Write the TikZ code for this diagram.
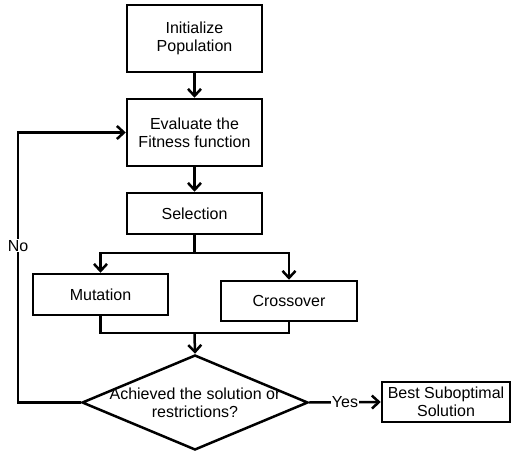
\documentclass[tikz,border=0pt]{standalone}
\usepackage{fontspec}
\setmainfont{Liberation Sans}
\usepackage{tikz}
\usetikzlibrary{arrows.meta, positioning, shapes.geometric}

\begin{document}
\begin{tikzpicture}[x=1pt, y=1pt,
  gabox/.style={draw=black, fill=white, line width=2.5pt, minimum width=135pt, minimum height=41pt, align=center, inner sep=2pt, font=\fontsize{16}{18}\selectfont},
  arr/.style={-{Straight Barb[length=7pt, width=13pt]}, black, line width=2.5pt},
  lnk/.style={black, line width=2.5pt},
  lbl/.style={fill=white, inner sep=1pt, font=\fontsize{16}{18}\selectfont}
]
  \useasboundingbox (0,0) rectangle (511,-452);

  \node[gabox, minimum height=67pt] (init) at (194.5,-38.5) {Initialize\\Population};
  \node[gabox, minimum height=67pt] (eval) at (194.5,-132.5) {Evaluate the\\Fitness function};
  \node[gabox] (sel) at (194.5,-213.5) {Selection};

  \node[gabox] (mut) at (100.5,-294.5) {Mutation};
  \node[gabox, minimum width=136pt, minimum height=40pt] (cross) at (289,-301) {Crossover};

  \node[diamond, draw=black, line width=2.5pt, minimum width=226pt, minimum height=95pt, inner sep=0pt] (dec) at (195,-402.5) {};
  \node[font=\fontsize{16}{18}\selectfont, align=center] (dectxt) at (dec.center) {Achieved the solution or\\restrictions?};

  \node[gabox, minimum width=128pt, minimum height=40pt] (best) at (446,-402) {Best Suboptimal\\Solution};

  \coordinate (split) at (194.5,-253);
  \coordinate (join) at (194.5,-333);
  \coordinate (back) at (18,-402.5);

  \draw[arr] (init) -- (eval);
  \draw[arr] (eval) -- (sel);
  \draw[lnk] (sel.south) -- (split);
  \foreach \m in {mut,cross}
    \draw[arr] (split) -| (\m.north);
  \foreach \m in {mut,cross}
    \draw[lnk] (\m.south) |- (join);
  \draw[arr] (join) -- (dec.north);

  \draw[arr] (dec.west) -- (back) |- node[lbl, pos=0.29] {No} (eval.west);
  \draw[arr] (dec.east) -- node[lbl] {Yes} (best.west);
\end{tikzpicture}
\end{document}
